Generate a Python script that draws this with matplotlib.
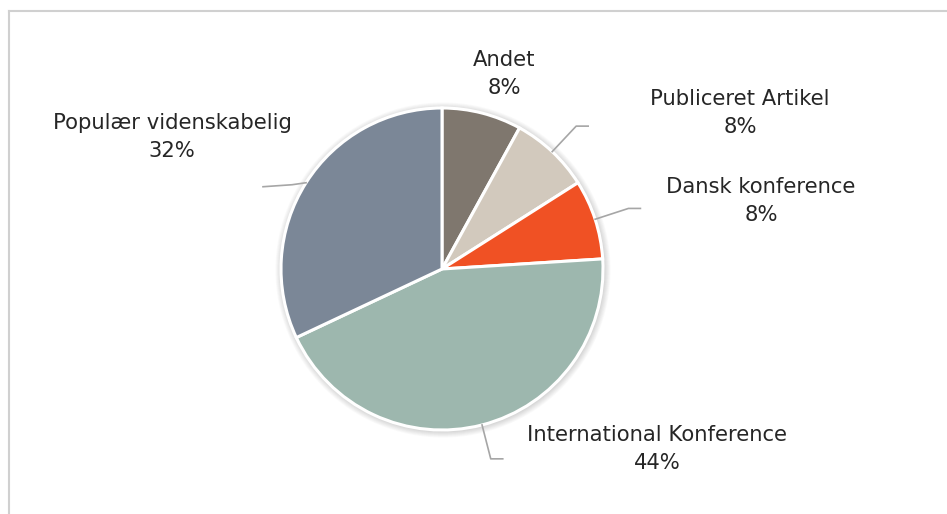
import numpy as np
import matplotlib.pyplot as plt
from matplotlib.patches import Circle

labels = ['Andet', 'Publiceret Artikel', 'Dansk konference',
          'International Konference', 'Populær videnskabelig']
shares = [8, 8, 8, 44, 32]
colors = ['#7f776e', '#d2c9bd', '#f05124', '#9db7ae', '#7b8797']

W, H = 947, 514
fig = plt.figure(figsize=(W / 100, H / 100), dpi=100)
ax = fig.add_axes([0, 0, 1, 1])

cx, cy, r = 442, H - 269, 161

# soft shadow around the pie
for k in range(8):
    ax.add_patch(Circle((cx + 1, cy - 1), r + 1 + k * 0.8, color='#000000',
                        alpha=0.018, lw=0, zorder=1))

wedges, _ = ax.pie(shares, colors=colors, startangle=90, counterclock=False,
                   center=(cx, cy), radius=r,
                   wedgeprops=dict(edgecolor='white', linewidth=2.2),
                   frame=True)
for w in wedges:
    w.set_zorder(2)
ax.set_xlim(0, W)
ax.set_ylim(0, H)
ax.set_aspect('equal')
ax.axis('off')

# label positions (pixel space, y from top) and leader elbows
label_pos = [(504, 74), (740, 113), (761, 201), (657, 449), (172, 137)]
leaders = [None, (196, 12), (196, 12), (196, 12), None]

txt_kw = dict(ha='center', va='center', fontsize=15.2, color='#262626',
              linespacing=1.47, family='DejaVu Sans', zorder=5)
for w, lab, val, pos, lead in zip(wedges, labels, shares, label_pos, leaders):
    ax.text(pos[0], H - pos[1], f'{lab}\n{val}%', **txt_kw)
    theta = np.radians((w.theta1 + w.theta2) / 2)
    x0, y0 = cx + r * np.cos(theta), cy + r * np.sin(theta)
    if lead is not None:
        rr, tail = lead
        x1, y1 = cx + rr * np.cos(theta), cy + rr * np.sin(theta)
        ax.plot([x0, x1, x1 + tail], [y0, y1, y1], color='#a6a6a6', lw=1.2,
                zorder=3)
    elif lab.startswith('Popul'):
        ax.plot([x0, x0 - 14, 263], [y0, y0 - 2, y0 - 4], color='#a6a6a6',
                lw=1.2, zorder=3)

# chart frame, only left and top edges are inside the image
ax.plot([9, 9], [0, H - 11], color='#d0d0d0', lw=1.5, zorder=0)
ax.plot([9, W], [H - 11, H - 11], color='#d0d0d0', lw=1.5, zorder=0)

fig.savefig('out.png', dpi=100)
